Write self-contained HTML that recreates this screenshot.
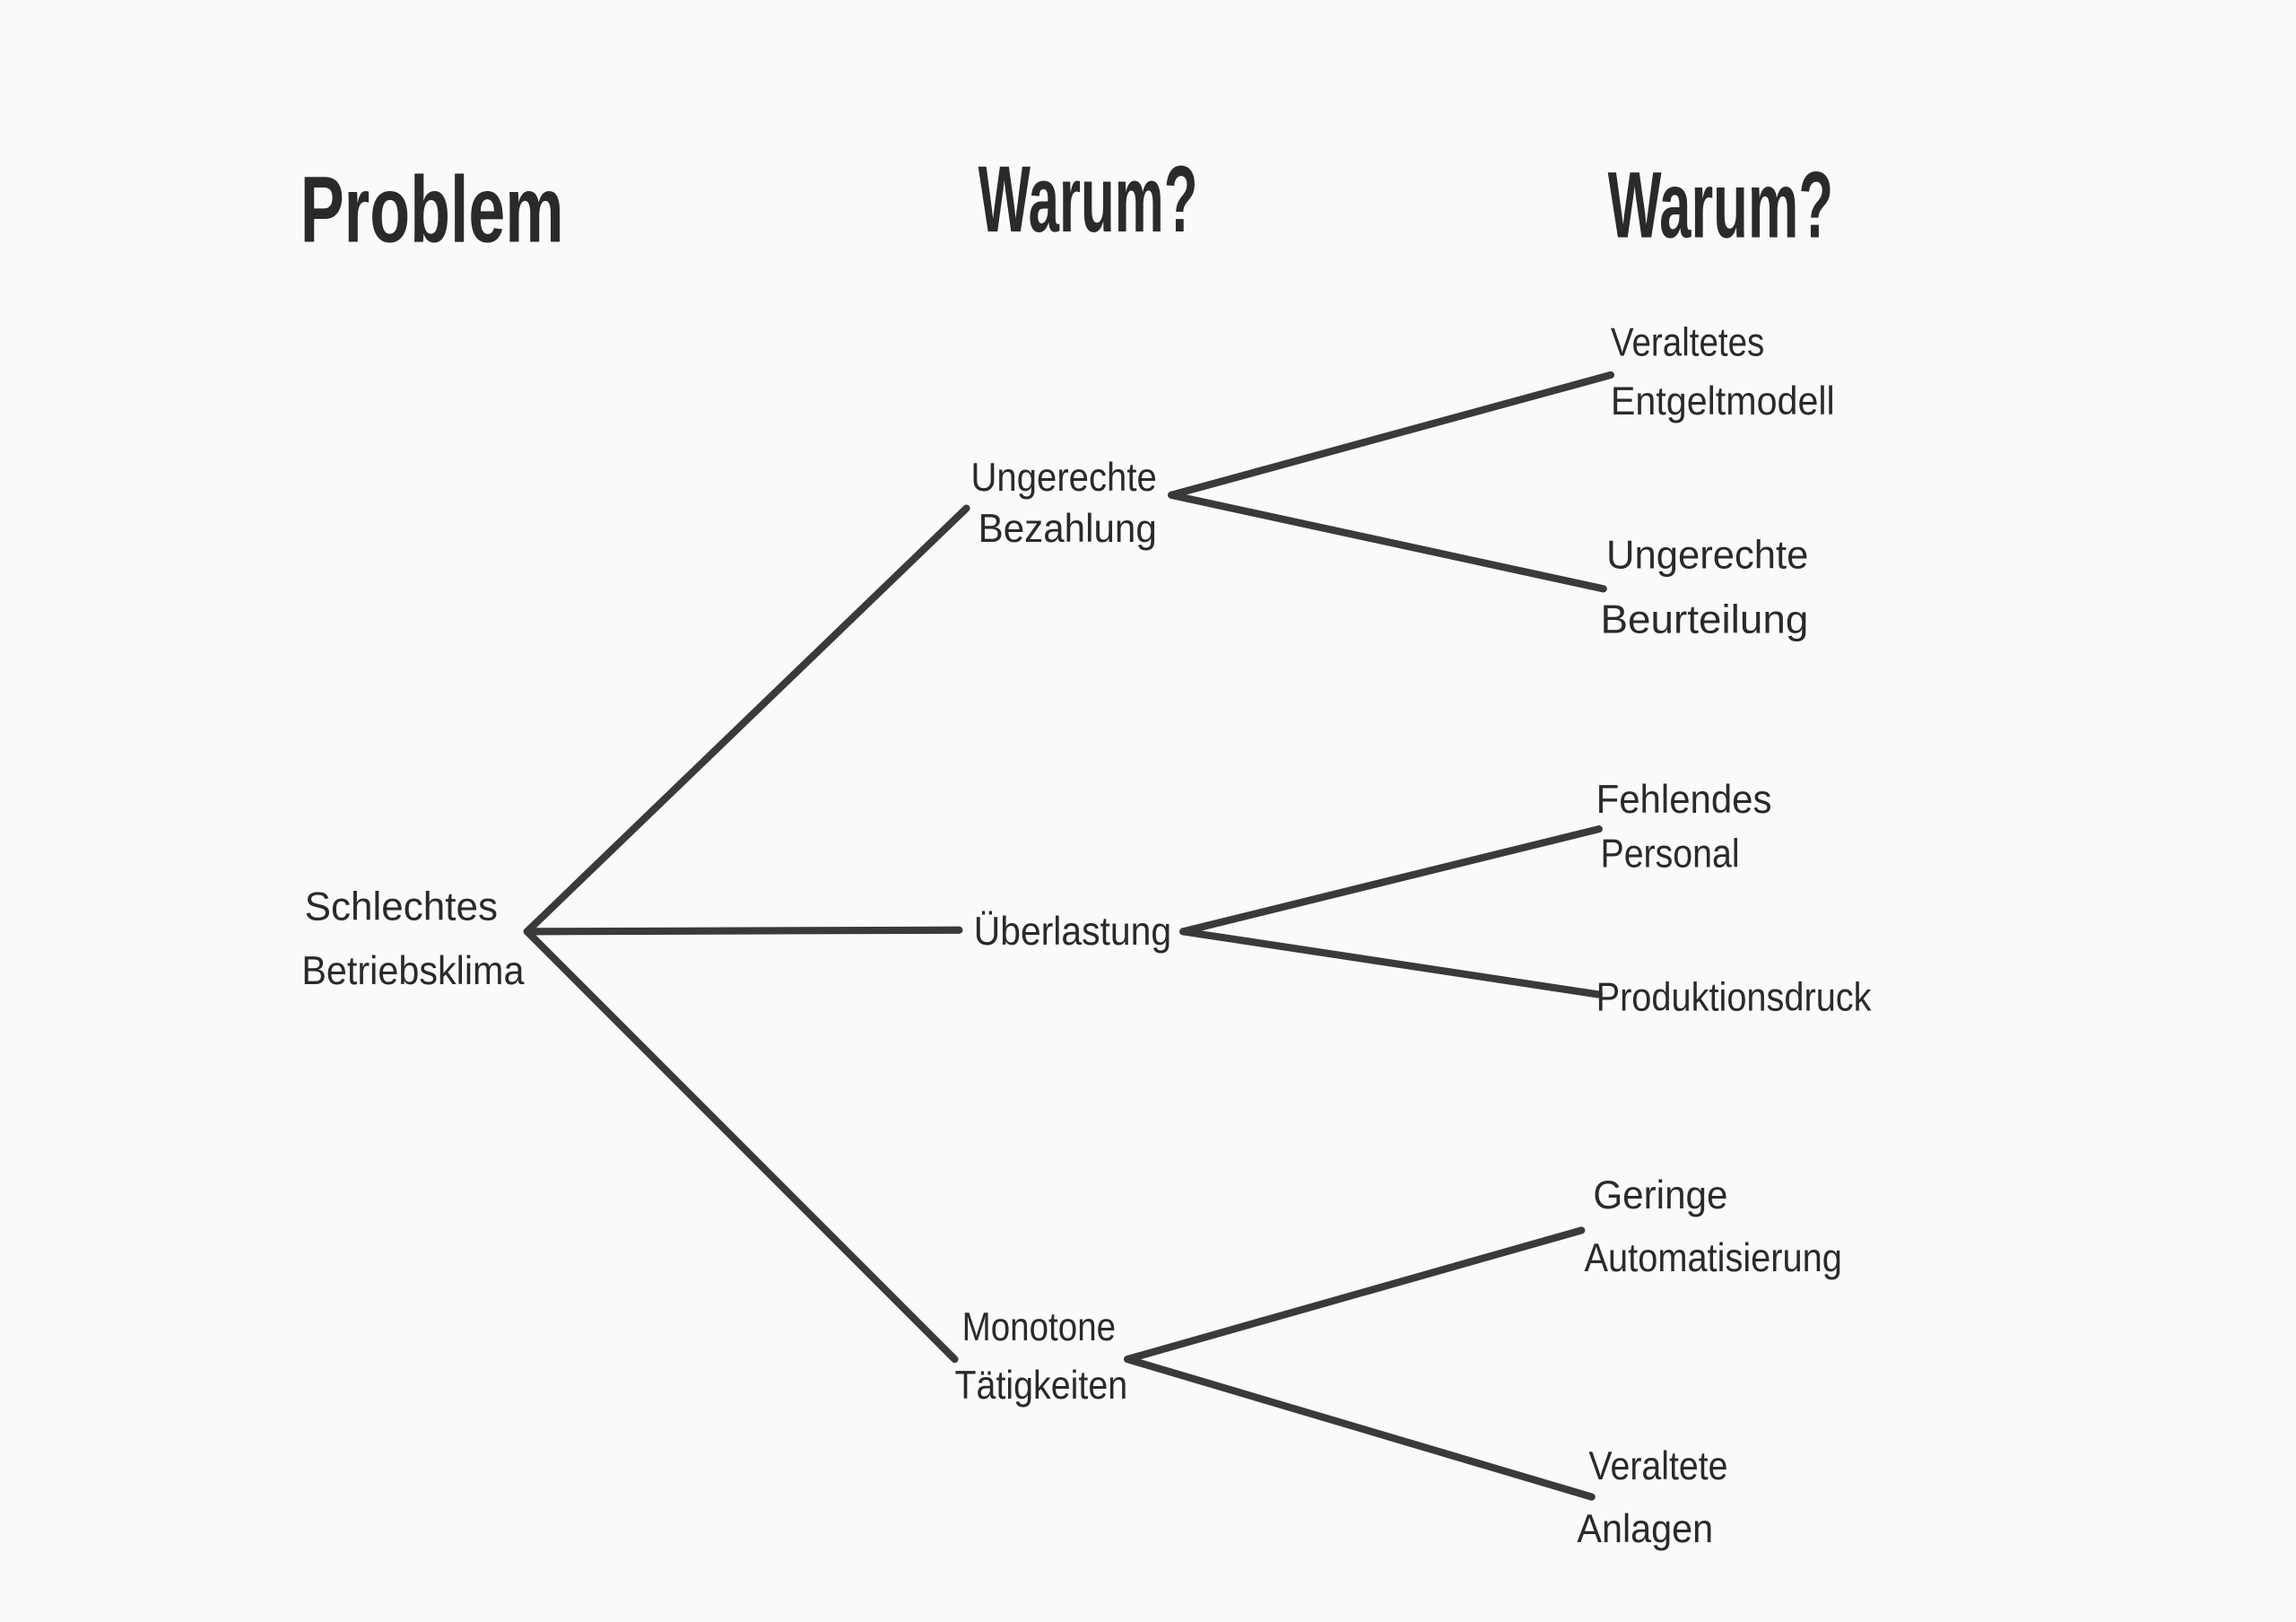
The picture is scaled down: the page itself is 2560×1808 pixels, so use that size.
<!DOCTYPE html>
<html><head><meta charset="utf-8"><style>
html,body{margin:0;padding:0;background:#fafafa;}
svg{display:block}
text{font-family:"Liberation Sans",sans-serif;fill:#2a2a2a}
.t{font-weight:bold;font-size:64px}
.n{font-size:27px}
</style></head><body>
<svg width="2560" height="1808" viewBox="0 0 1568 1107.4" preserveAspectRatio="none" xmlns="http://www.w3.org/2000/svg">
<rect width="1568" height="1108" fill="#fafafa"/>
<g stroke="#3a3a3a" stroke-width="5" stroke-linecap="round" fill="none">
<line x1="360" y1="636" x2="660" y2="347"/>
<line x1="360" y1="636" x2="655" y2="635"/>
<line x1="360" y1="636" x2="652" y2="928"/>
<line x1="800" y1="338" x2="1100" y2="256"/>
<line x1="800" y1="338" x2="1095" y2="402"/>
<line x1="808" y1="636" x2="1092" y2="566"/>
<line x1="808" y1="636" x2="1092" y2="679"/>
<line x1="770" y1="928" x2="1080" y2="840"/>
<line x1="770" y1="928" x2="1087" y2="1022"/>
</g>
<text class="t" x="205" y="165" textLength="180" lengthAdjust="spacingAndGlyphs">Problem</text>
<text class="t" x="668" y="158" textLength="150" lengthAdjust="spacingAndGlyphs">Warum?</text>
<text class="t" x="1098" y="162" textLength="154" lengthAdjust="spacingAndGlyphs">Warum?</text>
<g class="n">
<text class="n" x="208" y="628" textLength="132" lengthAdjust="spacingAndGlyphs">Schlechtes</text>
<text class="n" x="206" y="672" textLength="152" lengthAdjust="spacingAndGlyphs">Betriebsklima</text>
<text class="n" x="663" y="335" textLength="127" lengthAdjust="spacingAndGlyphs">Ungerechte</text>
<text class="n" x="668" y="370" textLength="122" lengthAdjust="spacingAndGlyphs">Bezahlung</text>
<text class="n" x="665" y="645" textLength="135" lengthAdjust="spacingAndGlyphs">Überlastung</text>
<text class="n" x="657" y="915" textLength="105" lengthAdjust="spacingAndGlyphs">Monotone</text>
<text class="n" x="652" y="955" textLength="118" lengthAdjust="spacingAndGlyphs">Tätigkeiten</text>
<text class="n" x="1100" y="243" textLength="105" lengthAdjust="spacingAndGlyphs">Veraltetes</text>
<text class="n" x="1100" y="283" textLength="153" lengthAdjust="spacingAndGlyphs">Entgeltmodell</text>
<text class="n" x="1097" y="388" textLength="138" lengthAdjust="spacingAndGlyphs">Ungerechte</text>
<text class="n" x="1093" y="432" textLength="142" lengthAdjust="spacingAndGlyphs">Beurteilung</text>
<text class="n" x="1090" y="555" textLength="120" lengthAdjust="spacingAndGlyphs">Fehlendes</text>
<text class="n" x="1093" y="592" textLength="95" lengthAdjust="spacingAndGlyphs">Personal</text>
<text class="n" x="1090" y="690" textLength="188" lengthAdjust="spacingAndGlyphs">Produktionsdruck</text>
<text class="n" x="1088" y="825" textLength="92" lengthAdjust="spacingAndGlyphs">Geringe</text>
<text class="n" x="1082" y="868" textLength="176" lengthAdjust="spacingAndGlyphs">Automatisierung</text>
<text class="n" x="1085" y="1010" textLength="95" lengthAdjust="spacingAndGlyphs">Veraltete</text>
<text class="n" x="1077" y="1053" textLength="93" lengthAdjust="spacingAndGlyphs">Anlagen</text>
</g>
</svg>
</body></html>
